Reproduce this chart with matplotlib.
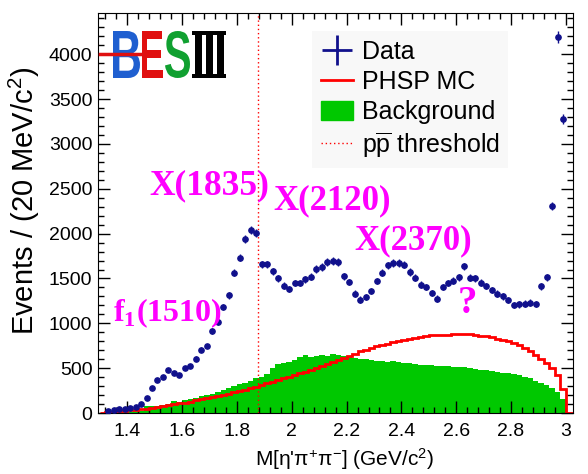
import numpy as np
import matplotlib.pyplot as plt
from matplotlib.lines import Line2D
from matplotlib.patches import Patch, PathPatch, Rectangle
from matplotlib.textpath import TextPath
from matplotlib.font_manager import FontProperties
from matplotlib.transforms import Affine2D, IdentityTransform
from matplotlib.ticker import MultipleLocator

# data points: bin centres (GeV/c^2) and events per 20 MeV
data_mass = [1.33, 1.35, 1.37, 1.39, 1.41, 1.43, 1.45, 1.47, 1.49, 1.51,
             1.53, 1.55, 1.57, 1.59, 1.61, 1.63, 1.65, 1.67, 1.69, 1.71,
             1.73, 1.75, 1.77, 1.79, 1.81, 1.83, 1.85, 1.87, 1.89, 1.91,
             1.93, 1.95, 1.97, 1.99, 2.01, 2.03, 2.05, 2.07, 2.09, 2.11,
             2.13, 2.15, 2.17, 2.19, 2.21, 2.23, 2.25, 2.27, 2.29, 2.31,
             2.33, 2.35, 2.37, 2.39, 2.41, 2.43, 2.45, 2.47, 2.49, 2.51,
             2.53, 2.55, 2.57, 2.59, 2.61, 2.63, 2.65, 2.67, 2.69, 2.71,
             2.73, 2.75, 2.77, 2.79, 2.81, 2.83, 2.85, 2.87, 2.89, 2.91,
             2.93, 2.95, 2.97, 2.99]
data_events = [20, 35, 40, 45, 60, 62, 105, 172, 283, 372,
               401, 484, 446, 420, 502, 524, 606, 707, 747, 914,
               1015, 1182, 1312, 1565, 1732, 1936, 2045, 2007, 1658, 1658,
               1578, 1503, 1420, 1382, 1449, 1449, 1490, 1520, 1605, 1628,
               1683, 1693, 1683, 1527, 1460, 1331, 1264, 1293, 1360, 1472,
               1565, 1647, 1672, 1672, 1654, 1572, 1509, 1430, 1405, 1340,
               1275, 1405, 1449, 1475, 1516, 1635, 1510, 1505, 1455, 1415,
               1370, 1330, 1300, 1260, 1205, 1210, 1220, 1231, 1212, 1412,
               1516, 2310, 4192, 3282]

# histogram bin edges 1.30 .. 3.04 (20 MeV)
bin_edges = np.round(np.arange(1.30, 3.0401, 0.02), 2)

phsp_mc = [5, 8, 12, 18, 24, 30, 36, 42, 50, 58,
           66, 75, 85, 95, 106, 117, 128, 140, 152, 164,
           176, 190, 203, 216, 230, 245, 262, 278, 295, 312,
           330, 348, 366, 385, 405, 425, 444, 462, 480, 498,
           520, 545, 570, 590, 610, 640, 660, 690, 705, 720,
           745, 755, 770, 790, 800, 815, 830, 840, 850, 858,
           865, 868, 872, 875, 880, 885, 882, 878, 872, 862,
           855, 845, 830, 815, 800, 780, 760, 730, 690, 650,
           600, 560, 500, 420, 270, 0, 0]

background = [3, 5, 8, 10, 12, 15, 18, 22, 75, 78,
              80, 85, 95, 130, 120, 140, 160, 172, 185, 200,
              215, 235, 255, 275, 300, 320, 340, 360, 390, 400,
              440, 500, 550, 560, 570, 590, 620, 645, 620, 640,
              645, 635, 660, 650, 630, 625, 610, 600, 605, 590,
              585, 580, 570, 575, 565, 560, 555, 545, 540, 535,
              530, 528, 525, 520, 515, 515, 510, 500, 495, 485,
              475, 468, 460, 450, 445, 438, 425, 405, 385, 360,
              340, 310, 280, 235, 160, 0, 0]

pp_threshold = 1.877

labels = ["X(1835)", "X(2120)", "X(2370)", r"f$_\mathbf{1}$(1510)", "?"]
label_pos = [(1.70, 2530), (2.147, 2370), (2.442, 1925), (1.545, 1108), (2.64, 1222)]
label_size = [25.5, 25, 25, 23, 28]

navy = "#10108c"
green = "#00c800"
magenta = "#ff00ff"

plt.rcParams["font.family"] = ["Liberation Sans", "DejaVu Sans"]
plt.rcParams["mathtext.fontset"] = "custom"
plt.rcParams["mathtext.rm"] = "Liberation Sans"
plt.rcParams["mathtext.it"] = "Liberation Sans:italic"
plt.rcParams["mathtext.bf"] = "Liberation Serif:bold"

fig = plt.figure(figsize=(5.88, 4.74), dpi=100)
ax = fig.add_axes([98 / 588, 61 / 474, 475 / 588, 400 / 474])

ax.stairs(background, bin_edges, fill=True, color=green, zorder=1)
ax.stairs(phsp_mc, bin_edges, color="red", lw=2, zorder=2, baseline=None)
ax.axvline(pp_threshold, color="red", ls=(0, (1, 2)), lw=1, zorder=2)

data_events = np.array(data_events, dtype=float)
ax.errorbar(data_mass, data_events, yerr=np.sqrt(data_events),
            fmt="o", color=navy, ms=3.8, elinewidth=1, capsize=0, zorder=3)

for txt, (x, y), fs in zip(labels, label_pos, label_size):
    ax.text(x, y, txt, color=magenta, fontsize=fs, fontweight="bold",
            family="Liberation Serif", ha="center", va="center", zorder=4)


# BESIII logo, letters squeezed into pixel boxes (x0, x1, ytop, ybottom)
def logo_letter(txt, family, color, box):
    tp = TextPath((0, 0), txt, size=100, prop=FontProperties(family=family, weight="bold"))
    ext = tp.get_extents()
    x0, x1, yt, yb = box
    sx = (x1 - x0) / ext.width
    sy = (yb - yt) / ext.height
    tr = (Affine2D().translate(-ext.x0, -ext.y0).scale(sx, sy)
          .translate(x0, 474 - yb) + IdentityTransform())
    fig.add_artist(PathPatch(tp, transform=tr, facecolor=color, edgecolor="none", zorder=6))


def logo_rect(x0, x1, yt, yb):
    fig.add_artist(Rectangle((x0, 474 - yb), x1 - x0, yb - yt, transform=IdentityTransform(),
                             facecolor="black", edgecolor="none", zorder=6))


logo_letter("B", "Liberation Sans", "#1f5fd0", (113, 140, 31, 78))
logo_letter("E", "Liberation Sans", "#e01010", (142, 163, 31, 78))
logo_letter("S", "Liberation Sans", "#10a030", (165, 190, 31, 78))
logo_rect(192, 226, 31, 35)
logo_rect(192, 226, 74, 78)
for bx in (195, 206, 217):
    logo_rect(bx, bx + 7, 31, 78)
fig.add_artist(Line2D([100 / 588, 150 / 588], [1 - 54 / 474, 1 - 54 / 474],
                      color="#e01010", lw=2.5, zorder=7))

handles = [Line2D([], [], color=navy, marker="+", ms=22, mew=2, ls="none"),
           Line2D([], [], color="red", lw=2),
           Patch(facecolor=green, edgecolor=green),
           Line2D([], [], color="red", ls=(0, (1, 2)), lw=1)]
names = ["Data", "PHSP MC", "Background", r"p$\overline{\rm p}$ threshold"]
leg = ax.legend(handles, names, loc="upper left", bbox_to_anchor=(0.45, 0.955),
                fontsize=18, frameon=True, facecolor="#f8f8f8", edgecolor="none",
                framealpha=1, handlelength=1.3, handleheight=0.8, handletextpad=0.35,
                labelspacing=0.24, borderaxespad=0, borderpad=0.35, fancybox=False)

ax.set_xlim(1.293, 3.026)
ax.set_ylim(0, 4460)
ax.xaxis.set_minor_locator(MultipleLocator(0.04))
ax.yaxis.set_major_locator(MultipleLocator(500))
ax.yaxis.set_minor_locator(MultipleLocator(100))
ax.set_xticks([1.4, 1.6, 1.8, 2.0, 2.2, 2.4, 2.6, 2.8, 3.0])
ax.set_xticklabels(["1.4", "1.6", "1.8", "2", "2.2", "2.4", "2.6", "2.8", "3"])
ax.tick_params(which="both", direction="in", top=True, right=True,
               labelsize=14, width=1)
ax.tick_params(which="major", length=8.5)
ax.tick_params(which="minor", length=4.3)
ax.tick_params(axis="y", pad=4)
ax.tick_params(axis="x", pad=7)

ax.set_xlabel("M[η'π$^{+}$π$^{-}$] (GeV/c$^{2}$)", fontsize=15)
ax.set_ylabel(r"Events / (20 MeV/c$^{2}$)", fontsize=21)
ax.xaxis.set_label_coords(0.52, -0.083)
ax.yaxis.set_label_coords(-0.118, 0.53)

fig.savefig("out.png", dpi=100)
